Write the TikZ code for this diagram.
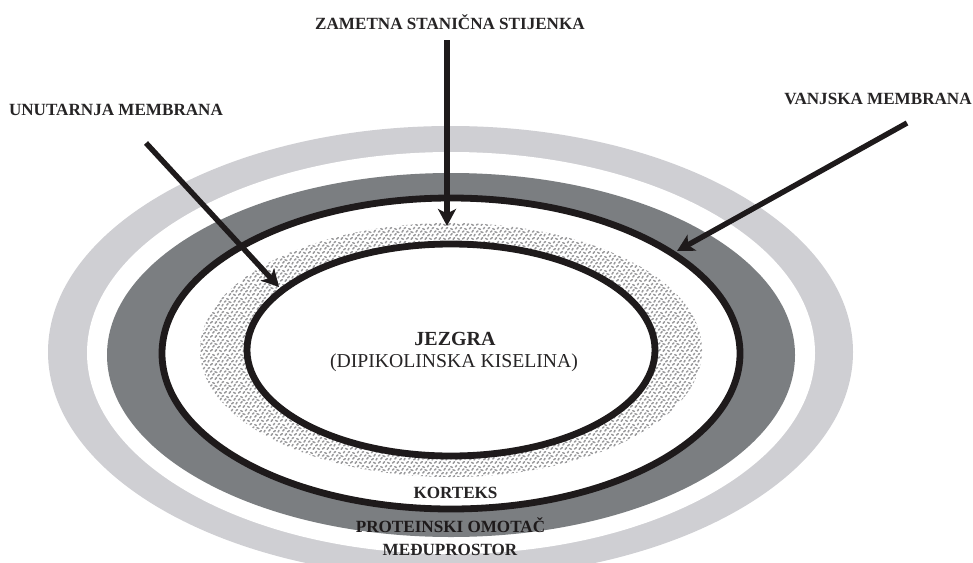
\documentclass[tikz,border=0pt]{standalone}
\usepackage{fontspec}
\setmainfont{Liberation Serif}
\usetikzlibrary{arrows.meta,patterns}
\definecolor{inkblack}{HTML}{1E1A1B}
\definecolor{ringdark}{HTML}{7B7E81}
\definecolor{ringlight}{HTML}{CFCFD3}
\definecolor{stipgray}{HTML}{9A9A9C}
\definecolor{labelink}{HTML}{262425}
\pgfdeclarepatternformonly{sporestipple}{\pgfpoint{-1pt}{-1pt}}{\pgfpoint{15pt}{15pt}}{\pgfpoint{14pt}{14pt}}{%
  \pgfsetlinewidth{1.5pt}\pgfsetroundcap
  \foreach \xa/\ya/\xb/\yb in {0.5/1/2.3/2.4, 5.2/0.7/6.5/2.3, 9.6/1.6/11.4/0.7, 2.8/4.9/4/6.3, 7.7/4.2/9.3/5.4, 12.1/4/13/5.6, 0.5/7.9/1.9/9.1, 4.9/8.2/6.8/7.5, 10/7.9/11.2/9.6, 2.8/11.4/4.4/10.5, 7.5/11.2/8.6/12.6, 12.1/11.4/13.5/12.4}{
    \pgfpathmoveto{\pgfpoint{\xa pt}{\ya pt}}\pgfpathlineto{\pgfpoint{\xb pt}{\yb pt}}
  }
  \pgfusepath{stroke}}
\tikzset{
  px/.style={x=1pt,y=-1pt},
  lightring/.style={fill=ringlight,draw=none},
  darkring/.style={fill=ringdark,draw=none},
  whitefill/.style={fill=white,draw=none},
  stippled/.style={pattern=sporestipple,pattern color=stipgray,draw=none},
  membrane/.style={draw=inkblack,line width=6.8pt,fill=none},
  pointer/.style={draw=inkblack,line width=5.4pt,-{Stealth[length=17pt,width=18pt,inset=4.5pt]}},
  caption/.style={font=\fontsize{17.1}{19}\selectfont\bfseries,text=labelink,inner sep=0pt},
  plain/.style={font=\fontsize{19.7}{22}\selectfont,text=labelink,inner sep=0pt}
}
\begin{document}
\begin{tikzpicture}[px]
\useasboundingbox (0,0) rectangle (973,562);
\begin{scope}
\clip (0,0) rectangle (973,562);
\fill[white] (0,0) rectangle (973,562);
\fill[lightring] (450.5,352) ellipse [x radius=402.5,y radius=226];
\fill[whitefill] (451,353) ellipse [x radius=364,y radius=201];
\fill[darkring] (451,355) ellipse [x radius=344,y radius=182];
\fill[whitefill] (451,353.5) ellipse [x radius=289,y radius=155.5];
\fill[stippled] (451,350) ellipse [x radius=251,y radius=127];
\fill[whitefill] (451,350) ellipse [x radius=204,y radius=106];
\draw[membrane] (451,353.5) ellipse [x radius=289,y radius=155.5];
\draw[membrane] (451,350) ellipse [x radius=204,y radius=106];
\end{scope}
\node[caption] (top) at (450,22) {ZAMETNA STANIČNA STIJENKA};
\node[caption] (inner) at (116,110) {UNUTARNJA MEMBRANA};
\node[caption] (outer) at (878,99) {VANJSKA MEMBRANA};
\node[caption,font=\fontsize{20}{22}\selectfont\bfseries] (core) at (455,339) {JEZGRA};
\node[plain] (acid) at (454,363) {(DIPIKOLINSKA KISELINA)};
\node[caption] (cortex) at (455.5,493) {KORTEKS};
\node[caption,text=inkblack] (coat) at (450.5,525) {PROTEINSKI OMOTAČ};
\node[caption] (gap) at (450,550) {MEĐUPROSTOR};
\coordinate (topTail) at (447,40);
\coordinate (topTip) at (447,226);
\coordinate (innerTail) at (146,143);
\coordinate (innerTip) at (279,287);
\coordinate (outerTail) at (907,123);
\coordinate (outerTip) at (677,251);
\draw[pointer] (topTail) -- (topTip);
\draw[pointer] (innerTail) -- (innerTip);
\draw[pointer] (outerTail) -- (outerTip);
\end{tikzpicture}
\end{document}
